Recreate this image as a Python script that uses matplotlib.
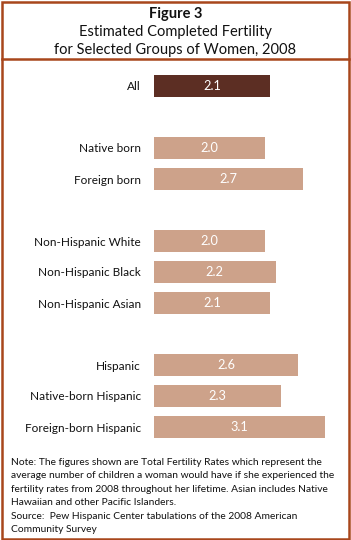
import matplotlib
matplotlib.use("Agg")
import matplotlib.pyplot as plt
from matplotlib.patches import Rectangle

# data
groups = [
    ["All"],
    ["Native born", "Foreign born"],
    ["Non-Hispanic White", "Non-Hispanic Black", "Non-Hispanic Asian"],
    ["Hispanic", "Native-born Hispanic", "Foreign-born Hispanic"],
]
values = [2.1, 2.0, 2.7, 2.0, 2.2, 2.1, 2.6, 2.3, 3.1]
labels = [c for g in groups for c in g]

note = ("Note: The figures shown are Total Fertility Rates which represent the\n"
        "average number of children a woman would have if she experienced the\n"
        "fertility rates from 2008 throughout her lifetime. Asian includes Native\n"
        "Hawaiian and other Pacific Islanders.")
source = "Source:  Pew Hispanic Center tabulations of the 2008 American\nCommunity Survey"

plt.rcParams["font.family"] = ["Lato", "DejaVu Sans"]
W, H = 351, 540
border = "#a8461c"
dark, light = "#5c2e23", "#cda28a"

fig = plt.figure(figsize=(W / 100, H / 100), dpi=100)

# slot positions: one empty slot between groups
pos = []
y = 0
for g in groups:
    for _ in g:
        pos.append(y)
        y += 1
    y += 1

# bar axes in pixel terms
x0, x1 = 154, 330
top, bot = 70.5, 442.5
ax = fig.add_axes([x0 / W, 1 - bot / H, (x1 - x0) / W, (bot - top) / H])
colors = [dark] + [light] * (len(values) - 1)
ax.barh(pos, values, height=0.71, color=colors)
for p, v in zip(pos, values):
    ax.text(v / 2, p, f"{v:.1f}", ha="center", va="center", color="white", fontsize=9.2)
ax.set_xlim(0, (x1 - x0) / 55.3)
ax.set_ylim(pos[-1] + 0.5, -0.5)
ax.set_yticks(pos, labels, fontsize=8.5, color="#111111")
ax.tick_params(axis="y", length=0, pad=9.4)
ax.set_xticks([])
for s in ax.spines.values():
    s.set_visible(False)

# frame
fig.patches.append(Rectangle((1.5 / W, 1.5 / H), (W - 4) / W, (H - 3.5) / H,
                             transform=fig.transFigure, fill=False, ec=border, lw=1.8))
fig.add_artist(plt.Line2D([1.5 / W, (W - 2.5) / W], [1 - 59 / H, 1 - 59 / H],
                          color=border, lw=1.8))

# title
fig.text(0.5, 1 - 14 / H, "Figure 3", ha="center", va="center", fontsize=10.5,
         fontweight="bold", color="#111111")
fig.text(0.5, 1 - 32 / H, "Estimated Completed Fertility", ha="center", va="center",
         fontsize=10.5, color="#111111")
fig.text(0.5, 1 - 50 / H, "for Selected Groups of Women, 2008", ha="center", va="center",
         fontsize=10.5, color="#111111")

# notes
fig.text(11 / W, 1 - 458 / H, note, ha="left", va="top", fontsize=7.4, linespacing=1.62,
         color="#111111")
fig.text(11 / W, 1 - 512 / H, source, ha="left", va="top", fontsize=7.4, linespacing=1.62,
         color="#111111")

fig.savefig("out.png", dpi=100)
